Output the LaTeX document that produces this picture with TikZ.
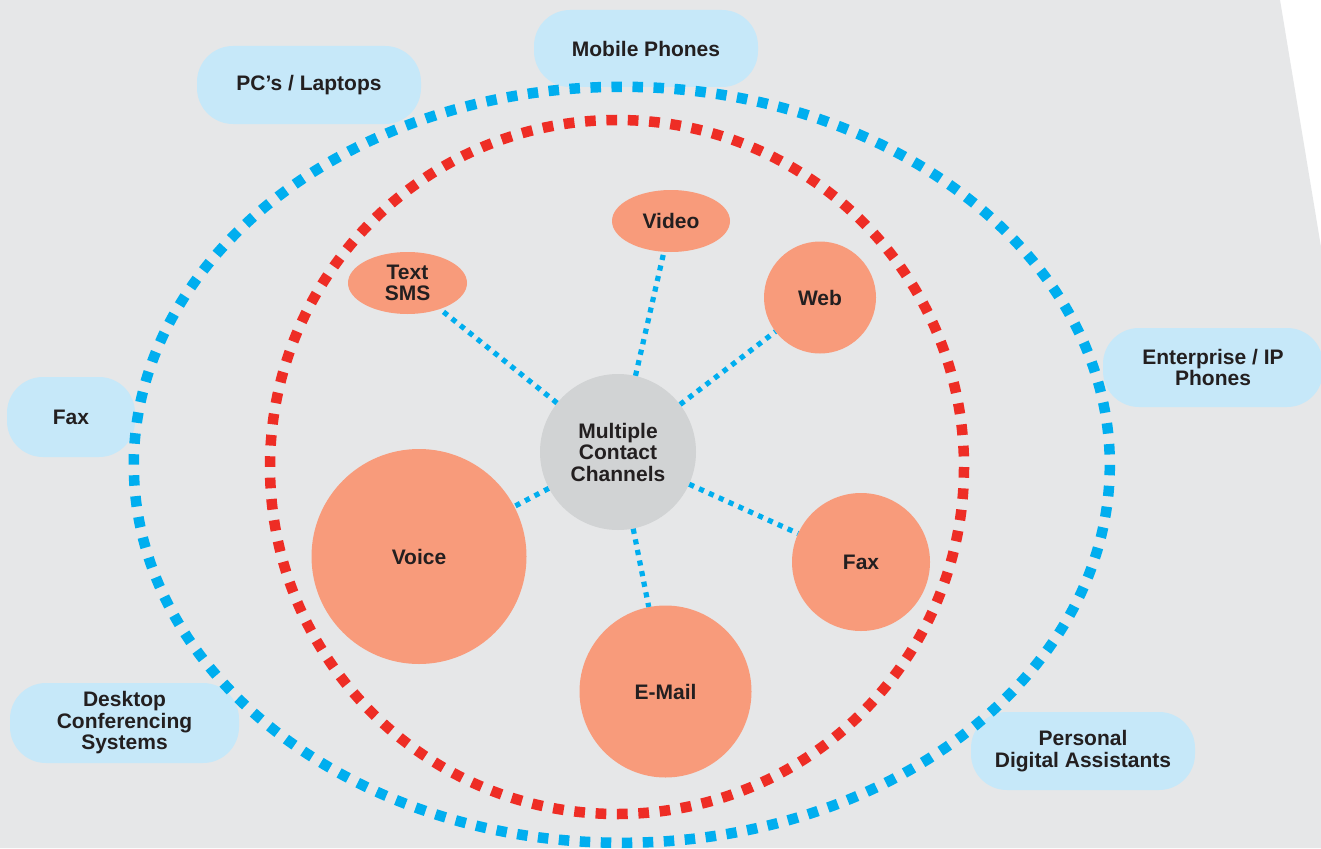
\documentclass[tikz,border=0pt]{standalone}
\usepackage{fontspec}
\setmainfont{Liberation Sans}
\usetikzlibrary{shapes.geometric}

\definecolor{bgGrey}{HTML}{E6E7E8}
\definecolor{boxBlue}{HTML}{C6E8F9}
\definecolor{dotBlue}{HTML}{00AEEF}
\definecolor{dotRed}{HTML}{EE2D25}
\definecolor{salmon}{HTML}{F89B7B}
\definecolor{hubGrey}{HTML}{D1D3D4}
\definecolor{ink}{HTML}{231F20}

\begin{document}
\begin{tikzpicture}[x=1pt,y=-1pt,
  every node/.style={font=\fontsize{21}{21.5}\selectfont\bfseries,
    text=ink, align=center, inner sep=0pt},
  device/.style={fill=boxBlue, rounded corners=36pt},
  channel/.style={circle, fill=salmon},
  oval/.style={ellipse, fill=salmon},
  hubnode/.style={circle, fill=hubGrey},
  % periods chosen so a whole number of dots fits each ring
  devicering/.style={draw=dotBlue, line width=10.5pt,
    dash pattern=on 10.5pt off 10.517pt},
  channelring/.style={draw=dotRed, line width=10.5pt,
    dash pattern=on 10.7pt off 10.679pt},
  link/.style={draw=dotBlue, line width=5.2pt,
    dash pattern=on 5.2pt off 5.6pt}
]
% page and grey backdrop with slanted right edge
\fill[white] (0,0) rectangle (1321,848);
\fill[bgGrey] (0,0) -- (1280,0) -- (1321,247) -- (1321,848) -- (0,848) -- cycle;
\useasboundingbox (0,0) rectangle (1321,848);

% device labels
\node[device, minimum width=224pt, minimum height=78pt] (pc) at (309,85) {PC’s / Laptops};
\node[device, minimum width=224pt, minimum height=77pt] (mobile) at (646,48.5) {Mobile Phones};
\node[device, minimum width=128pt, minimum height=80pt] (faxdev) at (71,417) {Fax};
\node[device, minimum width=220pt, minimum height=79pt] (ipphone) at (1213,367.5) {Enterprise / IP\\Phones};
\node[device, minimum width=229pt, minimum height=80pt] (desktop) at (124.5,723) {Desktop\\Conferencing\\Systems};
\node[device, minimum width=224pt, minimum height=78pt] (pda) at (1083,751) {Personal\\Digital Assistants};

% dotted rings
\path[devicering] (621.8,464.8) ellipse [x radius=488, y radius=378];
\path[channelring] (617,467) circle [radius=347];

% hub and channels
\node[hubnode, minimum size=156pt] (hub) at (618,452) {Multiple\\Contact\\Channels};
\node[oval, minimum width=119pt, minimum height=62pt] (sms) at (407.5,283) {Text\\SMS};
\node[oval, minimum width=118pt, minimum height=62pt] (video) at (671,221) {Video};
\node[channel, minimum size=112pt] (web) at (820,297.5) {Web};
\node[channel, minimum size=215pt] (voice) at (419,556.5) {Voice};
\node[channel, minimum size=172pt] (email) at (665.5,691.5) {E-Mail};
\node[channel, minimum size=138pt] (fax) at (861,562) {Fax};

% connectors
\foreach \c in {sms,video,web,voice,email,fax}
  \path[link] (hub) -- (\c);
\end{tikzpicture}
\end{document}
